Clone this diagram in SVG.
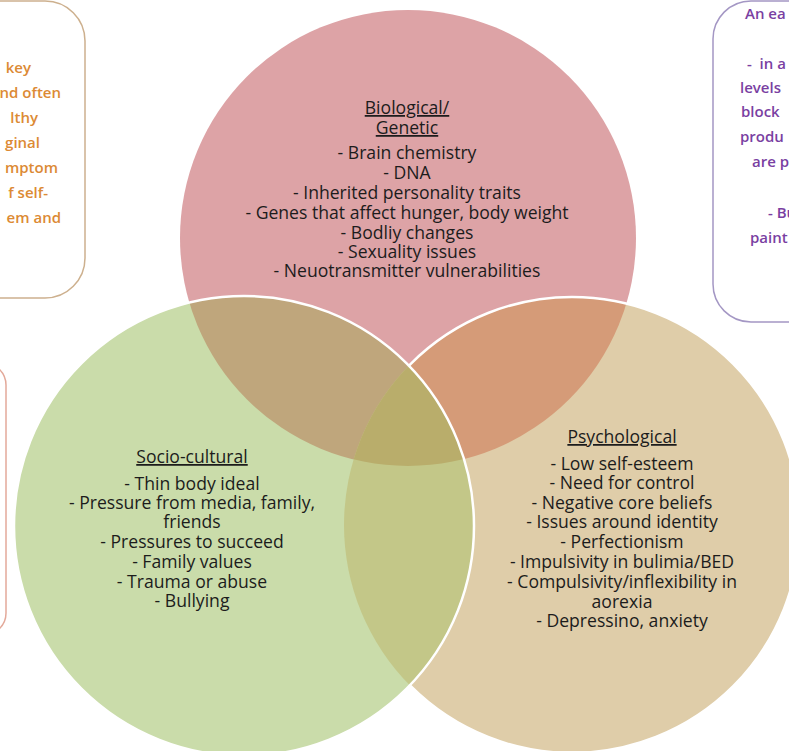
<svg xmlns="http://www.w3.org/2000/svg" width="789" height="751" viewBox="0 0 789 751">
  <style>
    .lbl { font-family: "Open Sans", "Liberation Sans", sans-serif; font-size: 17.6px; font-weight: 500; fill: #1c1c1c; text-anchor: middle; }
    .ttl { text-decoration: underline; }
    .note { font-family: "Open Sans", "Liberation Sans", sans-serif; font-size: 15px; font-weight: 600; }
    .orange { fill: #dc8a34; }
    .purple { fill: #7a3fa2; }
    .ring { fill: none; stroke: #ffffff; stroke-width: 2.5; }
  </style>
  <defs>
    <circle id="cP" cx="408" cy="238" r="228"/>
    <circle id="cG" cx="244" cy="526" r="230"/>
    <circle id="cT" cx="572" cy="525" r="228"/>
    <clipPath id="clipP"><use href="#cP"/></clipPath>
    <clipPath id="clipG"><use href="#cG"/></clipPath>
    <clipPath id="clipT"><use href="#cT"/></clipPath>
  </defs>

  <rect width="789" height="751" fill="#ffffff"/>

  <!-- side notes, partly outside the frame -->
  <g id="note-left-top">
    <rect x="-260" y="1" width="345" height="297" rx="40" fill="#ffffff" stroke="#cdb08e" stroke-width="1.5"/>
    <g class="note orange" text-anchor="end">
      <text x="31" y="73">key</text>
      <text x="61" y="98">nd often</text>
      <text x="38" y="123">lthy</text>
      <text x="40" y="148">ginal</text>
      <text x="58" y="173">mptom</text>
      <text x="48" y="198">f self-</text>
      <text x="61" y="223">em and</text>
    </g>
  </g>

  <g id="note-right-top">
    <rect x="713" y="1" width="300" height="321" rx="38" fill="#ffffff" stroke="#a497c4" stroke-width="1.5"/>
    <g class="note purple">
      <text x="745" y="19">An ea</text>
      <text x="747" y="69" xml:space="preserve">-  in a</text>
      <text x="740" y="93">levels</text>
      <text x="741" y="117">block</text>
      <text x="740" y="142">produ</text>
      <text x="752" y="167">are p</text>
      <text x="768" y="218">- Bu</text>
      <text x="750" y="243">paint</text>
    </g>
  </g>

  <g id="note-left-mid">
    <rect x="-300" y="363" width="306" height="272" rx="22" fill="#ffffff" stroke="#e3a99a" stroke-width="1.5"/>
  </g>

  <!-- Venn circles -->
  <g id="venn">
    <use href="#cP" fill="#dda3a6"/>
    <use href="#cT" fill="#dfcda9"/>
    <use href="#cP" fill="#d59b78" clip-path="url(#clipT)"/>
    <use href="#cT" class="ring"/>
    <use href="#cG" fill="#cadcaa"/>
    <g clip-path="url(#clipG)">
      <use href="#cP" fill="#bfa67c"/>
      <use href="#cT" fill="#c3c788"/>
      <g clip-path="url(#clipT)">
        <use href="#cP" fill="#b9ad6b"/>
      </g>
    </g>
    <use href="#cG" class="ring"/>
  </g>

  <g id="biological">
    <text class="lbl ttl" x="407" y="114">Biological/</text>
    <text class="lbl ttl" x="407" y="134">Genetic</text>
    <text class="lbl" x="407" y="159">- Brain chemistry</text>
    <text class="lbl" x="407" y="179">- DNA</text>
    <text class="lbl" x="407" y="199">- Inherited personality traits</text>
    <text class="lbl" x="407" y="219">- Genes that affect hunger, body weight</text>
    <text class="lbl" x="407" y="239">- Bodliy changes</text>
    <text class="lbl" x="407" y="258">- Sexuality issues</text>
    <text class="lbl" x="407" y="277">- Neuotransmitter vulnerabilities</text>
  </g>

  <g id="socio-cultural">
    <text class="lbl ttl" x="192" y="463">Socio-cultural</text>
    <text class="lbl" x="192" y="490">- Thin body ideal</text>
    <text class="lbl" x="192" y="509">- Pressure from media, family,</text>
    <text class="lbl" x="192" y="528">friends</text>
    <text class="lbl" x="192" y="548">- Pressures to succeed</text>
    <text class="lbl" x="192" y="568">- Family values</text>
    <text class="lbl" x="192" y="588">- Trauma or abuse</text>
    <text class="lbl" x="192" y="607">- Bullying</text>
  </g>

  <g id="psychological">
    <text class="lbl ttl" x="622" y="443">Psychological</text>
    <text class="lbl" x="622" y="470">- Low self-esteem</text>
    <text class="lbl" x="622" y="489">- Need for control</text>
    <text class="lbl" x="622" y="509">- Negative core beliefs</text>
    <text class="lbl" x="622" y="528">- Issues around identity</text>
    <text class="lbl" x="622" y="548">- Perfectionism</text>
    <text class="lbl" x="622" y="568">- Impulsivity in bulimia/BED</text>
    <text class="lbl" x="622" y="588">- Compulsivity/inflexibility in</text>
    <text class="lbl" x="622" y="608">aorexia</text>
    <text class="lbl" x="622" y="627">- Depressino, anxiety</text>
  </g>
</svg>
